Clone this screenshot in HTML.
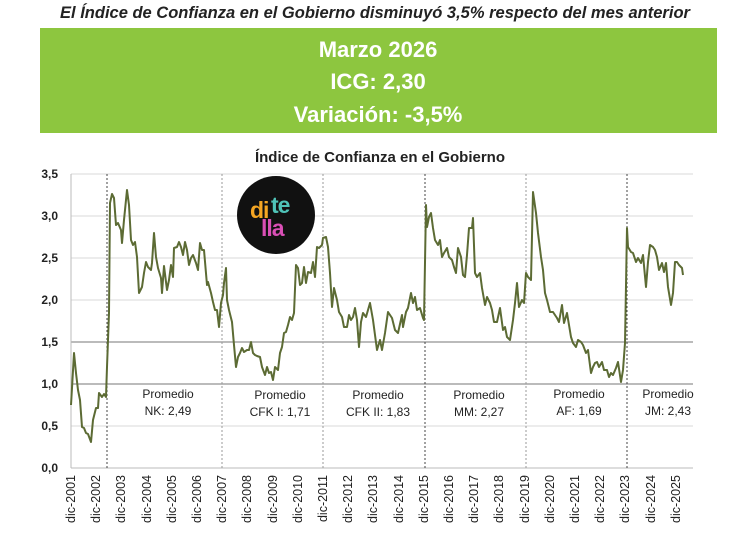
<!DOCTYPE html>
<html><head><meta charset="utf-8"><style>
body{margin:0;width:750px;height:539px;background:#fff;overflow:hidden;font-family:"Liberation Sans",sans-serif;}
</style></head><body>
<svg width="750" height="539" xmlns="http://www.w3.org/2000/svg" font-family="Liberation Sans, sans-serif">
<text x="375" y="18" text-anchor="middle" font-size="16.5" font-weight="bold" font-style="italic" fill="#222">El Índice de Confianza en el Gobierno disminuyó 3,5% respecto del mes anterior</text>
<rect x="40" y="28" width="677" height="105" fill="#8dc63f"/>
<text x="378" y="57" text-anchor="middle" font-size="22" font-weight="bold" fill="#fff">Marzo 2026</text>
<text x="378" y="89" text-anchor="middle" font-size="22" font-weight="bold" fill="#fff">ICG: 2,30</text>
<text x="378" y="122" text-anchor="middle" font-size="22" font-weight="bold" fill="#fff">Variación: -3,5%</text>
<text x="380" y="162" text-anchor="middle" font-size="15" font-weight="bold" fill="#222">Índice de Confianza en el Gobierno</text>
<g stroke="#d9d9d9" stroke-width="1">
<line x1="71" y1="174" x2="693" y2="174"/><line x1="71" y1="216" x2="693" y2="216"/><line x1="71" y1="258" x2="693" y2="258"/><line x1="71" y1="300" x2="693" y2="300"/><line x1="71" y1="426" x2="693" y2="426"/></g>
<g stroke="#777" stroke-width="1"><line x1="71" y1="342" x2="693" y2="342"/><line x1="71" y1="384" x2="693" y2="384"/></g>
<line x1="71" y1="468" x2="693" y2="468" stroke="#bbb"/>
<line x1="71" y1="174" x2="71" y2="468" stroke="#bbb"/>
<g font-size="12" font-weight="bold" fill="#222" text-anchor="end">
<text x="58" y="178">3,5</text><text x="58" y="220">3,0</text><text x="58" y="262">2,5</text><text x="58" y="304">2,0</text><text x="58" y="346">1,5</text><text x="58" y="388">1,0</text><text x="58" y="430">0,5</text><text x="58" y="472">0,0</text></g>
<g stroke-dasharray="2,2" stroke-width="1">
<line x1="107" y1="174" x2="107" y2="468" stroke="#444"/>
<line x1="222" y1="174" x2="222" y2="468" stroke="#999"/>
<line x1="323" y1="174" x2="323" y2="468" stroke="#999"/>
<line x1="425" y1="174" x2="425" y2="468" stroke="#444"/>
<line x1="526" y1="174" x2="526" y2="468" stroke="#999"/>
<line x1="627" y1="174" x2="627" y2="468" stroke="#444"/>
</g>
<g font-size="12" fill="#222" text-anchor="middle">
<text x="168" y="398">Promedio</text><text x="168" y="415">NK: 2,49</text>
<text x="280" y="399">Promedio</text><text x="280" y="416">CFK I: 1,71</text>
<text x="378" y="399">Promedio</text><text x="378" y="416">CFK II: 1,83</text>
<text x="479" y="399">Promedio</text><text x="479" y="416">MM: 2,27</text>
<text x="579" y="398">Promedio</text><text x="579" y="415">AF: 1,69</text>
<text x="668" y="398">Promedio</text><text x="668" y="415">JM: 2,43</text>
</g>
<circle cx="276" cy="215" r="39" fill="#111"/>
<text x="250" y="218" font-size="23" font-weight="bold" fill="#f5a623" letter-spacing="-1">di</text>
<text x="271" y="213" font-size="23" font-weight="bold" fill="#4fc3b8" letter-spacing="-1">te</text>
<text x="261" y="236" font-size="23" font-weight="bold" fill="#d94fb5" letter-spacing="-1">lla</text>
<polyline fill="none" stroke="#5c6b34" stroke-width="2" stroke-linejoin="round" points="71,405 72,388 74,353 76,373 78,390 80,400 82,427 84,428 86,433 88,434 91,442 93,420 96,408 98,408 99,393 102,397 104,394 106,397 107,367 109,313 110,203 112,194 114,198 116,225 118,223 121,230 122,243 124,220 127,190 129,205 131,240 133,245 135,242 137,257 139,293 142,287 144,273 146,262 148,267 151,270 152,263 154,233 156,257 158,268 161,278 162,293 164,266 167,290 169,280 171,265 173,277 174,248 177,247 179,242 181,247 183,255 185,242 187,250 189,265 191,258 193,255 196,263 198,270 200,243 202,250 204,250 207,285 208,282 211,293 213,302 215,310 217,310 219,327 221,303 223,295 224,283 226,268 227,300 229,310 232,322 234,345 236,367 238,357 240,353 242,348 244,352 247,350 249,350 251,342 253,353 255,355 257,356 260,357 262,367 265,375 267,367 269,373 271,372 273,380 275,367 278,370 280,353 282,347 284,333 286,332 288,325 290,317 292,320 294,313 296,265 298,268 300,285 302,283 304,267 306,283 308,272 311,273 313,262 315,277 317,247 319,248 322,245 323,238 326,237 328,247 330,273 332,307 334,288 337,300 339,312 342,317 344,327 347,327 349,315 351,320 353,317 355,308 357,320 359,347 361,322 363,313 366,317 368,310 370,303 373,320 375,335 377,350 380,340 382,350 385,333 388,312 392,318 395,330 398,333 402,315 403,327 406,312 408,308 411,293 413,303 415,297 417,310 420,308 423,318 424,320 426,205 427,227 429,217 431,213 433,228 435,240 438,245 440,240 442,257 444,253 447,248 449,257 452,260 454,267 456,273 458,248 461,257 463,275 465,277 467,255 469,228 472,228 473,218 475,273 477,277 480,273 482,288 485,305 487,297 490,303 492,310 494,322 497,322 500,308 503,330 505,327 507,337 510,340 513,320 515,303 517,283 519,307 522,300 524,303 526,273 528,277 531,280 533,192 536,213 538,233 541,257 543,270 545,293 547,300 550,312 553,312 555,315 557,318 559,322 562,305 564,323 567,313 569,325 571,337 573,343 576,347 578,340 581,342 583,345 586,353 588,350 591,373 593,367 595,363 597,362 599,367 602,362 604,370 607,370 609,377 611,373 613,375 616,368 618,362 621,382 623,370 625,343 627,228 628,247 631,252 633,253 636,262 638,258 641,263 643,255 646,287 648,262 650,245 653,247 655,250 657,257 659,270 662,263 664,272 666,263 668,287 671,305 673,293 675,262 677,262 679,265 682,268 683,275"/>
<g font-size="12.5" fill="#222" text-anchor="end">
<text transform="translate(75,475) rotate(-90)">dic-2001</text>
<text transform="translate(100,475) rotate(-90)">dic-2002</text>
<text transform="translate(125,475) rotate(-90)">dic-2003</text>
<text transform="translate(151,475) rotate(-90)">dic-2004</text>
<text transform="translate(176,475) rotate(-90)">dic-2005</text>
<text transform="translate(201,475) rotate(-90)">dic-2006</text>
<text transform="translate(226,475) rotate(-90)">dic-2007</text>
<text transform="translate(251,475) rotate(-90)">dic-2008</text>
<text transform="translate(277,475) rotate(-90)">dic-2009</text>
<text transform="translate(302,475) rotate(-90)">dic-2010</text>
<text transform="translate(327,475) rotate(-90)">dic-2011</text>
<text transform="translate(352,475) rotate(-90)">dic-2012</text>
<text transform="translate(377,475) rotate(-90)">dic-2013</text>
<text transform="translate(403,475) rotate(-90)">dic-2014</text>
<text transform="translate(428,475) rotate(-90)">dic-2015</text>
<text transform="translate(453,475) rotate(-90)">dic-2016</text>
<text transform="translate(478,475) rotate(-90)">dic-2017</text>
<text transform="translate(503,475) rotate(-90)">dic-2018</text>
<text transform="translate(529,475) rotate(-90)">dic-2019</text>
<text transform="translate(554,475) rotate(-90)">dic-2020</text>
<text transform="translate(579,475) rotate(-90)">dic-2021</text>
<text transform="translate(604,475) rotate(-90)">dic-2022</text>
<text transform="translate(629,475) rotate(-90)">dic-2023</text>
<text transform="translate(655,475) rotate(-90)">dic-2024</text>
<text transform="translate(680,475) rotate(-90)">dic-2025</text>
</g>
</svg>
</body></html>
